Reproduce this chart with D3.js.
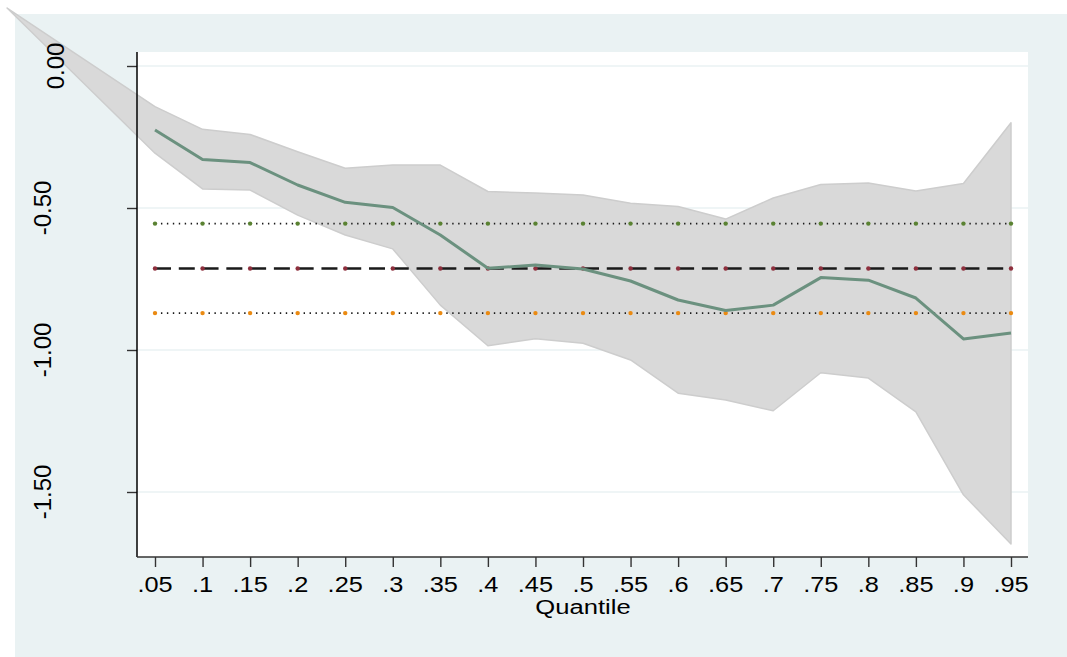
<!DOCTYPE html>
<html>
<head>
<meta charset="utf-8">
<script src="https://cdn.jsdelivr.net/npm/d3@7"></script>
<style>
    body { margin: 0; background: #ffffff; }
    svg { display: block; font-family: "Liberation Sans", Arial, sans-serif; }
    .tick-label { fill: #000; }
</style>
</head>
<body>
<div class="mainview"></div>
<script>

// Data ////////////////////////////////////

const quantiles = [.05, .1, .15, .2, .25, .3, .35, .4, .45, .5, .55, .6, .65, .7, .75, .8, .85, .9, .95];
const quantileLabels = [".05", ".1", ".15", ".2", ".25", ".3", ".35", ".4", ".45", ".5", ".55", ".6", ".65", ".7", ".75", ".8", ".85", ".9", ".95"];

const coef = [-0.225, -0.329, -0.340, -0.419, -0.480, -0.498, -0.595, -0.712, -0.701, -0.715, -0.757, -0.824, -0.861, -0.842, -0.745, -0.754, -0.817, -0.961, -0.940];
const ciUpper = [-0.143, -0.223, -0.241, -0.302, -0.360, -0.349, -0.349, -0.442, -0.447, -0.454, -0.483, -0.495, -0.539, -0.465, -0.417, -0.412, -0.440, -0.414, -0.200];
const ciLower = [-0.307, -0.433, -0.437, -0.525, -0.595, -0.644, -0.842, -0.985, -0.960, -0.976, -1.035, -1.152, -1.176, -1.214, -1.080, -1.099, -1.218, -1.510, -1.683];

// stray first vertex of the band polygon (drawn outside the plot region)
const bandStart = { q: -0.1055, v: 0.204 };

const olsCoef = -0.713;
const olsUpper = -0.555;
const olsLower = -0.870;

const yTicks = [0, -0.5, -1, -1.5];
const yTickLabels = ["0.00", "-0.50", "-1.00", "-1.50"];

// Layout ////////////////////////////////////

const dim = { width: 1067, height: 657 };
const graph = { left: 15, top: 14 };
const plot = { left: 137, right: 1028, top: 52, bottom: 557 };

const x = d3.scaleLinear()
    .domain([0.05, 0.95])
    .range([155, 1011]);

const y = d3.scaleLinear()
    .domain([0, -1.5])
    .range([66, 492]);

const svg = d3.select(".mainview").append("svg")
    .attr("width", dim.width)
    .attr("height", dim.height);

svg.append("rect")
    .attr("x", graph.left).attr("y", graph.top)
    .attr("width", dim.width - graph.left)
    .attr("height", dim.height - graph.top)
    .style("fill", "#eaf2f3");

svg.append("rect")
    .attr("x", plot.left).attr("y", plot.top)
    .attr("width", plot.right - plot.left)
    .attr("height", plot.bottom - plot.top)
    .style("fill", "#ffffff");

// grid lines
svg.append("g")
    .selectAll("line")
    .data(yTicks)
    .join("line")
    .attr("x1", plot.left).attr("x2", plot.right)
    .attr("y1", d => y(d)).attr("y2", d => y(d))
    .style("stroke", "#eaf2f3")
    .style("stroke-width", 1.6);

// confidence band
const bandPts = [[bandStart.q, bandStart.v]]
    .concat(quantiles.map((q, i) => [q, ciUpper[i]]))
    .concat(quantiles.map((q, i) => [q, ciLower[i]]).reverse());

svg.append("path")
    .attr("d", d3.line().x(d => x(d[0])).y(d => y(d[1]))(bandPts) + "Z")
    .style("fill", "#d9d9d9")
    .style("stroke", "#cdcdcd")
    .style("stroke-width", 1.5)
    .style("stroke-linejoin", "round");

// OLS estimate and its CI
const hline = (g, v, dash, width) => g.append("line")
    .attr("x1", x(quantiles[0])).attr("x2", x(quantiles[quantiles.length - 1]))
    .attr("y1", y(v)).attr("y2", y(v))
    .style("stroke", "#1a1a1a")
    .style("stroke-width", width)
    .style("stroke-dasharray", dash);

const ols = svg.append("g");
const step = x(quantiles[1]) - x(quantiles[0]);
hline(ols, olsUpper, `1.4,${ step / 8 - 1.4 }`, 1.6);
hline(ols, olsLower, `1.4,${ step / 8 - 1.4 }`, 1.6);
hline(ols, olsCoef, `16,${ step / 2 - 16 }`, 2.4);

const markers = [
    { v: olsUpper, color: "#5a8232" },
    { v: olsCoef, color: "#8e2f3d" },
    { v: olsLower, color: "#ea8a12" }
];

markers.forEach(m => {
    ols.append("g")
        .selectAll("circle")
        .data(quantiles)
        .join("circle")
        .attr("cx", d => x(d))
        .attr("cy", y(m.v))
        .attr("r", 2.2)
        .style("fill", m.color);
});

// quantile regression coefficients
svg.append("path")
    .datum(quantiles)
    .attr("d", d3.line().x(d => x(d)).y((d, i) => y(coef[i])))
    .style("fill", "none")
    .style("stroke", "#6b917f")
    .style("stroke-width", 3)
    .style("stroke-linejoin", "round");

// Axes ////////////////////////////////////

const yAxis = d3.axisLeft(y)
    .tickValues(yTicks)
    .tickFormat("")
    .tickSizeOuter(0)
    .tickSizeInner(10);

svg.append("g")
    .attr("transform", `translate(${ plot.left }, 0)`)
    .call(yAxis)
    .call(g => g.select(".domain").remove())
    .call(g => g.selectAll(".tick line").style("stroke", "#333").style("stroke-width", 1.4));

svg.append("line")
    .attr("x1", plot.left).attr("x2", plot.left)
    .attr("y1", plot.top).attr("y2", plot.bottom)
    .style("stroke", "#000")
    .style("stroke-width", 1.5);

// rotated labels: shorter strings sit closer to the axis, as in the original
svg.append("g")
    .selectAll("text")
    .data(yTicks)
    .join("text")
    .attr("class", "tick-label")
    .attr("text-anchor", "middle")
    .attr("dy", "0.36em")
    .style("font-size", "24px")
    .text((d, i) => yTickLabels[i])
    .attr("transform", function (d) {
        const cx = 130 - 1.6 * this.getComputedTextLength();
        return `translate(${ cx }, ${ y(d) }) rotate(-90)`;
    });

const xAxis = d3.axisBottom(x)
    .tickValues(quantiles)
    .tickFormat("")
    .tickSizeOuter(0)
    .tickSizeInner(10);

svg.append("g")
    .attr("transform", `translate(0, ${ plot.bottom })`)
    .call(xAxis)
    .call(g => g.select(".domain").remove())
    .call(g => g.selectAll(".tick line").style("stroke", "#333").style("stroke-width", 1.4));

svg.append("line")
    .attr("x1", plot.left).attr("x2", plot.right)
    .attr("y1", plot.bottom).attr("y2", plot.bottom)
    .style("stroke", "#333")
    .style("stroke-width", 1.5);

svg.append("g")
    .selectAll("text")
    .data(quantiles)
    .join("text")
    .attr("class", "tick-label")
    .attr("transform", d => `translate(${ x(d) }, 592) scale(1.18, 1)`)
    .attr("text-anchor", "middle")
    .style("font-size", "21.5px")
    .text((d, i) => quantileLabels[i]);

svg.append("text")
    .attr("transform", `translate(${ (plot.left + plot.right) / 2 + 0.5 }, 614) scale(1.22, 1)`)
    .attr("text-anchor", "middle")
    .style("font-size", "21px")
    .text("Quantile");

</script>
</body>
</html>
